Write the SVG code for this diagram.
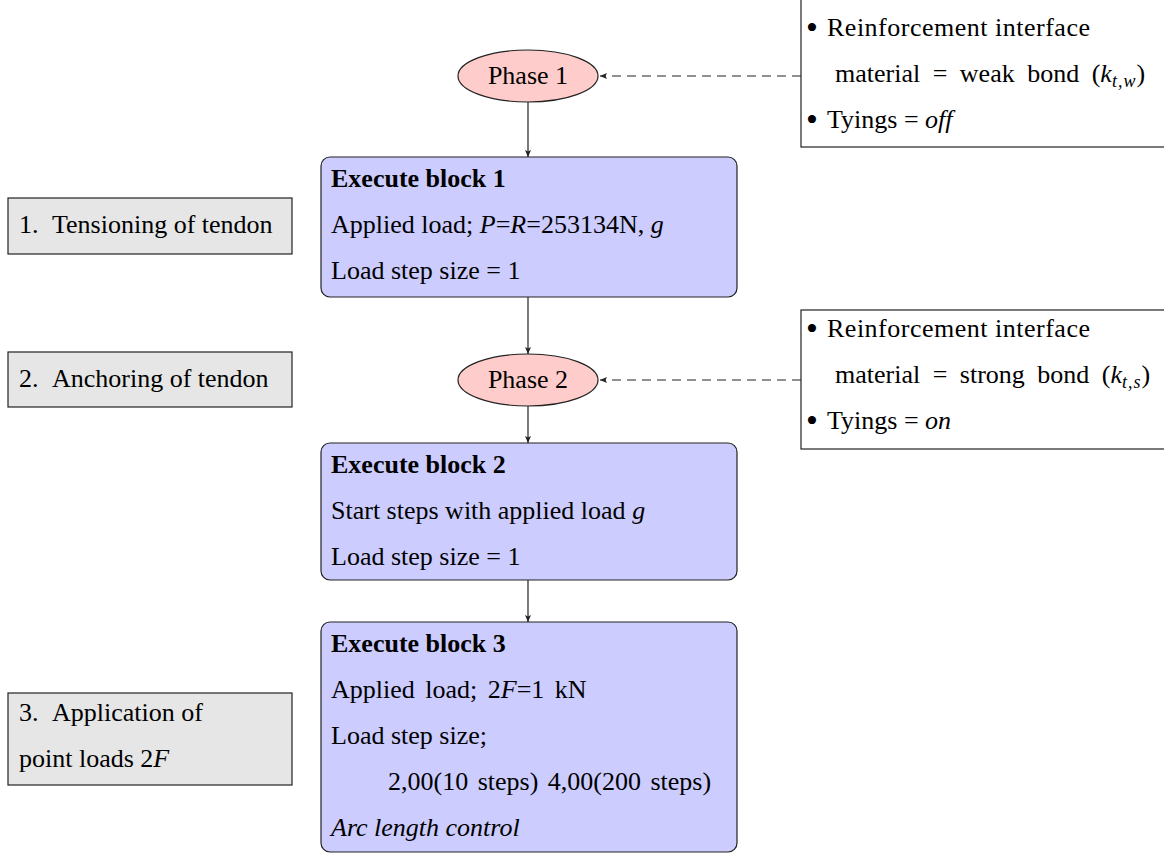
<svg xmlns="http://www.w3.org/2000/svg" width="1164" height="854" viewBox="0 0 1164 854">
<style>
text{font-family:"Liberation Serif","Times New Roman",serif;font-size:26px;fill:#000}
.b{font-weight:bold}
.i{font-style:italic}
.bu{font-size:34px}
.blk{fill:#ccccff;stroke:#222;stroke-width:1.2}
.ph{fill:#ffcccc;stroke:#222;stroke-width:1.2}
.lb{fill:#e6e6e6;stroke:#222;stroke-width:1.2}
.rb{fill:#fff;stroke:#222;stroke-width:1.2}
.c{fill:none;stroke:#222;stroke-width:1.2}
.d{fill:none;stroke:#222;stroke-width:1.2;stroke-dasharray:9 6}
</style>
<defs>
<marker id="ah" markerWidth="8" markerHeight="8" refX="7" refY="4" orient="auto" markerUnits="userSpaceOnUse">
<path d="M0,1 L7,4 L0,7 L1.5,4 z" fill="#222"/>
</marker>
</defs>
<g id="connectors">
<line class="c" x1="528" y1="102" x2="528" y2="157" marker-end="url(#ah)"/>
<line class="c" x1="528" y1="297" x2="528" y2="354" marker-end="url(#ah)"/>
<line class="c" x1="528" y1="406" x2="528" y2="443" marker-end="url(#ah)"/>
<line class="c" x1="528" y1="580" x2="528" y2="622" marker-end="url(#ah)"/>
<line class="d" x1="801" y1="76" x2="600" y2="76" marker-end="url(#ah)"/>
<line class="d" x1="801" y1="380" x2="600" y2="380" marker-end="url(#ah)"/>
</g>
<g id="phase1">
<ellipse class="ph" cx="528" cy="76" rx="70" ry="26"/>
<text x="528" y="84" text-anchor="middle">Phase 1</text>
</g>
<g id="note1">
<rect class="rb" x="801" y="-1" width="370" height="148"/>
<text class="bu" x="806" y="39">•</text>
<text x="827" y="36" textLength="263" lengthAdjust="spacing">Reinforcement interface</text>
<text x="835" y="82" word-spacing="6">material = weak bond (<tspan class="i">k</tspan><tspan class="i" font-size="18" dy="5" letter-spacing="1">t,w</tspan><tspan dy="-5">)</tspan></text>
<text class="bu" x="806" y="131">•</text>
<text x="827" y="128">Tyings = <tspan class="i">off</tspan></text>
</g>
<g id="block1">
<rect class="blk" x="321" y="157" width="416" height="140" rx="9"/>
<text class="b" x="331" y="187">Execute block 1</text>
<text x="331" y="233">Applied load; <tspan class="i">P</tspan>=<tspan class="i">R</tspan>=253134N, <tspan class="i">g</tspan></text>
<text x="331" y="279">Load step size = 1</text>
</g>
<g id="stage1">
<rect class="lb" x="8" y="198" width="284" height="56"/>
<text x="19" y="233">1.<tspan x="52">Tensioning of tendon</tspan></text>
</g>
<g id="stage2">
<rect class="lb" x="8" y="352" width="284" height="55"/>
<text x="19" y="387">2.<tspan x="52">Anchoring of tendon</tspan></text>
</g>
<g id="phase2">
<ellipse class="ph" cx="528" cy="380" rx="70" ry="26"/>
<text x="528" y="388" text-anchor="middle">Phase 2</text>
</g>
<g id="note2">
<rect class="rb" x="801" y="310" width="370" height="139"/>
<text class="bu" x="806" y="340">•</text>
<text x="827" y="337" textLength="263" lengthAdjust="spacing">Reinforcement interface</text>
<text x="835" y="383" word-spacing="6">material = strong bond (<tspan class="i">k</tspan><tspan class="i" font-size="18" dy="5" letter-spacing="1">t,s</tspan><tspan dy="-5">)</tspan></text>
<text class="bu" x="806" y="432">•</text>
<text x="827" y="429">Tyings = <tspan class="i">on</tspan></text>
</g>
<g id="block2">
<rect class="blk" x="321" y="443" width="416" height="137" rx="9"/>
<text class="b" x="331" y="473">Execute block 2</text>
<text x="331" y="519">Start steps with applied load <tspan class="i">g</tspan></text>
<text x="331" y="565">Load step size = 1</text>
</g>
<g id="block3">
<rect class="blk" x="321" y="622" width="416" height="230" rx="9"/>
<text class="b" x="331" y="652">Execute block 3</text>
<text x="331" y="698" word-spacing="4">Applied load; 2<tspan class="i">F</tspan>=1 kN</text>
<text x="331" y="744">Load step size;</text>
<text x="388" y="790" word-spacing="3">2,00(10 steps) 4,00(200 steps)</text>
<text class="i" x="331" y="836">Arc length control</text>
</g>
<g id="stage3">
<rect class="lb" x="8" y="693" width="284" height="92"/>
<text x="19" y="721">3.<tspan x="52">Application of</tspan></text>
<text x="19" y="767">point loads 2<tspan class="i">F</tspan></text>
</g>
</svg>
